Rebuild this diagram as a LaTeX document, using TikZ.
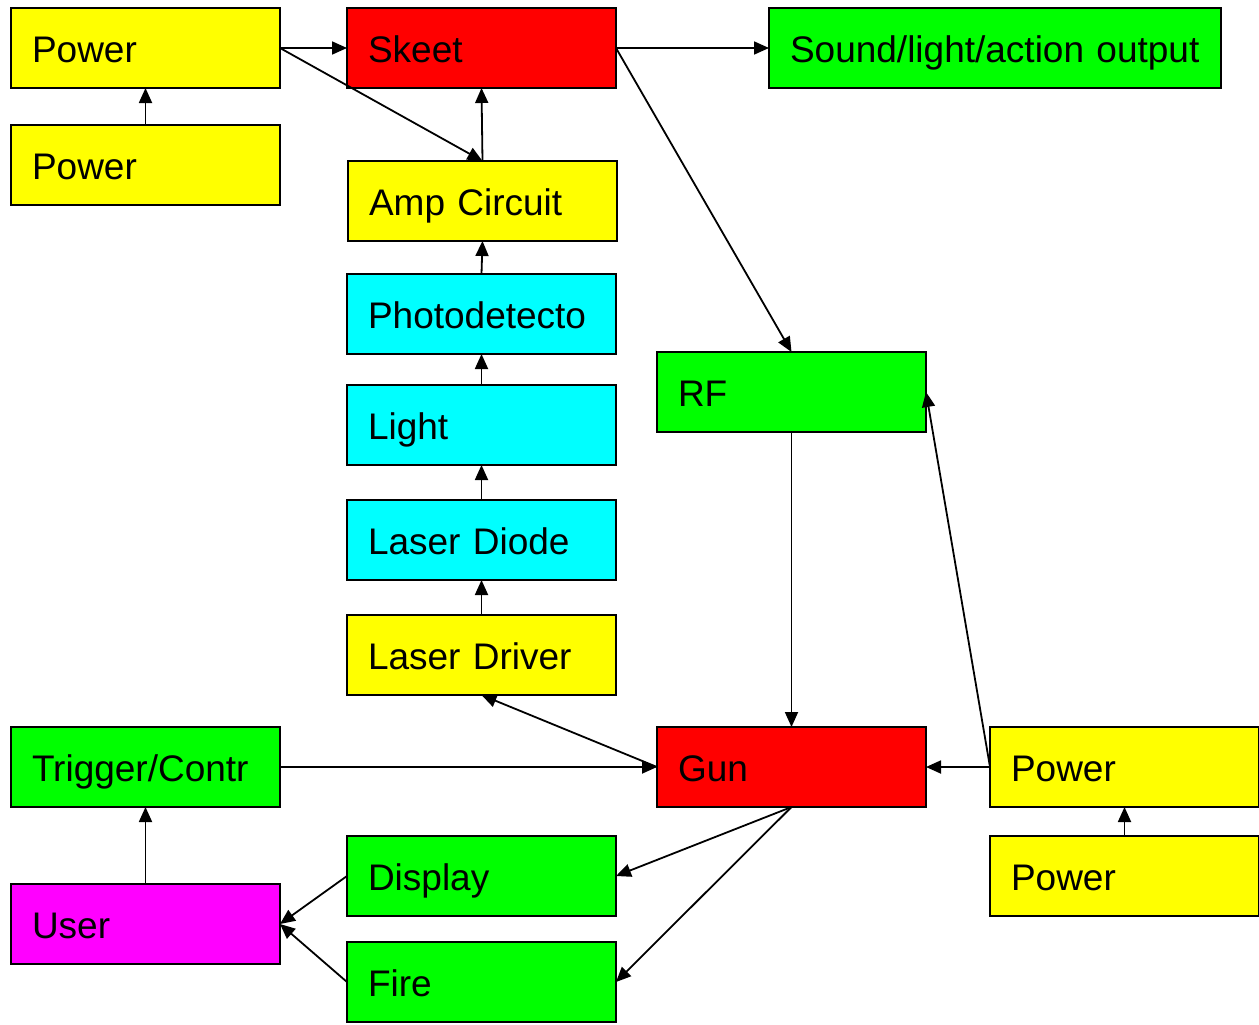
\documentclass[tikz,border=0pt]{standalone}
\usepackage{fontspec}
\setmainfont{Liberation Sans}
\usetikzlibrary{arrows.meta}
\definecolor{cyel}{RGB}{255,255,0}
\definecolor{cred}{RGB}{255,0,0}
\definecolor{cgrn}{RGB}{0,255,0}
\definecolor{ccyn}{RGB}{0,255,255}
\definecolor{cmag}{RGB}{255,0,255}
\newcommand{\mytxt}[1]{\raisebox{0pt}[28.6pt][0pt]{#1}}
\tikzset{
  blk/.style={draw=black, line width=1.5pt, rectangle, anchor=north west,
    minimum height=80pt, inner xsep=21pt, inner ysep=0pt, outer sep=0pt,
    text width=#1, align=left, font=\fontsize{37}{42}\selectfont},
  blk/.default=227pt,
  conn/.style={line width=1.8pt, -{Triangle[length=15pt,width=13pt]}}
}
\begin{document}
\begin{tikzpicture}[x=1pt,y=-1pt]
\useasboundingbox (0,0) rectangle (1259,1025);
\node[blk, fill=cyel] (pw1) at (11,8) {\mytxt{Power}};
\node[blk, fill=cyel] (pw2) at (11,125) {\mytxt{Power}};
\node[blk, fill=cred] (skeet) at (347,8) {\mytxt{Skeet}};
\node[blk=410pt, fill=cgrn] (sound) at (769,8) {\mytxt{Sound/light/action output}};
\node[blk, fill=cyel] (amp) at (348,161) {\mytxt{Amp Circuit}};
\node[blk, fill=ccyn] (photo) at (347,274) {\mytxt{Photodetecto}};
\node[blk, fill=ccyn] (light) at (347,385) {\mytxt{Light}};
\node[blk, fill=ccyn] (ldiode) at (347,500) {\mytxt{Laser Diode}};
\node[blk, fill=cyel] (ldriver) at (347,615) {\mytxt{Laser Driver}};
\node[blk, fill=cgrn] (rf) at (657,352) {\mytxt{RF}};
\node[blk, fill=cgrn] (trig) at (11,727) {\mytxt{Trigger/Contr}};
\node[blk, fill=cred] (gun) at (657,727) {\mytxt{Gun}};
\node[blk, fill=cyel] (pw3) at (990,727) {\mytxt{Power}};
\node[blk, fill=cyel] (pw4) at (990,836) {\mytxt{Power}};
\node[blk, fill=cgrn] (disp) at (347,836) {\mytxt{Display}};
\node[blk, fill=cmag] (user) at (11,884) {\mytxt{User}};
\node[blk, fill=cgrn] (fire) at (347,942) {\mytxt{Fire}};

\draw[conn] (pw1.east) -- (skeet.west);
\draw[conn] (pw2.north) -- (pw1.south);
\draw[conn] (pw1.east) -- (amp.north);
\draw[conn] (amp.north) -- (skeet.south);
\draw[conn] (skeet.east) -- (sound.west);
\draw[conn] (skeet.east) -- (rf.north);
\draw[conn] (photo.north) -- (amp.south);
\draw[conn] (light.north) -- (photo.south);
\draw[conn] (ldiode.north) -- (light.south);
\draw[conn] (ldriver.north) -- (ldiode.south);
\draw[conn] (gun.west) -- (ldriver.south);
\draw[conn] (trig.east) -- (gun.west);
\draw[conn] (rf.south) -- (gun.north);
\draw[conn] (pw3.west) -- (gun.east);
\draw[conn] (pw3.west) -- (rf.east);
\draw[conn] (pw4.north) -- (pw3.south);
\draw[conn] (gun.south) -- (disp.east);
\draw[conn] (gun.south) -- (fire.east);
\draw[conn] (disp.west) -- (user.east);
\draw[conn] (fire.west) -- (user.east);
\draw[conn] (user.north) -- (trig.south);
\end{tikzpicture}
\end{document}
